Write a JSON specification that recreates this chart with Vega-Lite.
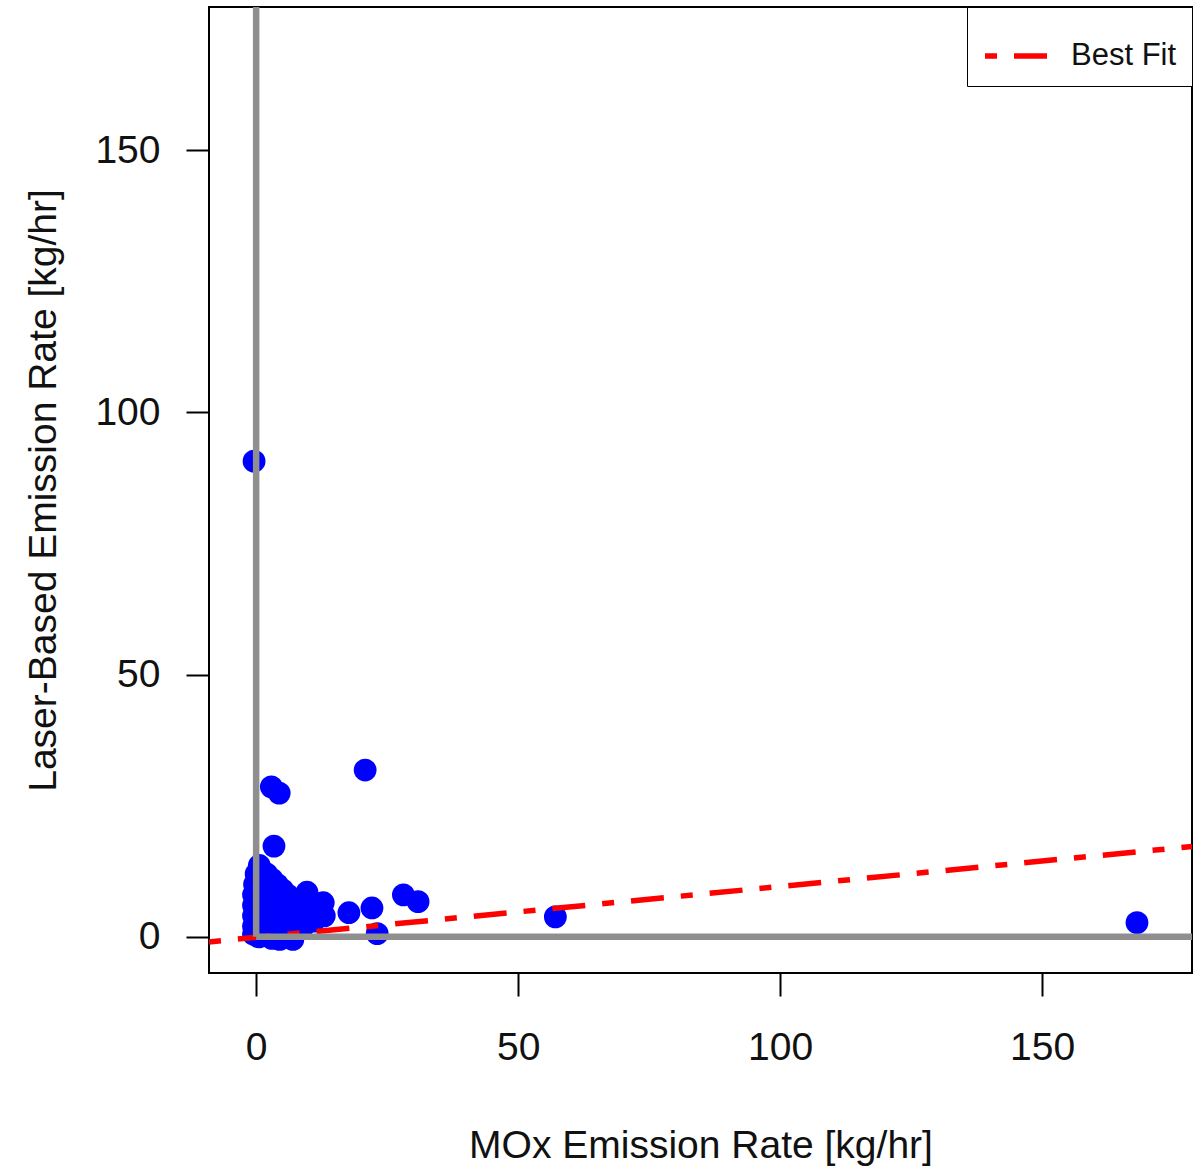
{
  "$schema": "https://vega.github.io/schema/vega-lite/v6.json",
  "width": 983,
  "height": 966,
  "autosize": "none",
  "padding": {"left": 209, "top": 7, "right": 12, "bottom": 193},
  "background": "white",
  "config": {
    "font": "Liberation Sans",
    "view": {"stroke": "black", "strokeWidth": 2},
    "axis": {
      "grid": false,
      "domain": false,
      "tickColor": "black",
      "tickWidth": 2,
      "tickSize": 23,
      "labelFont": "Liberation Sans",
      "labelFontSize": 39,
      "labelColor": "#111111",
      "titleFont": "Liberation Sans",
      "titleFontSize": 39,
      "titleFontWeight": "normal",
      "titleColor": "#111111"
    }
  },
  "datasets": {
    "pts": [
      {"x": -0.5, "y": 0.5}, {"x": -0.5, "y": 2}, {"x": -0.5, "y": 4}, {"x": -0.5, "y": 6}, {"x": -0.5, "y": 8},
      {"x": -0.3, "y": 10}, {"x": 0, "y": 12}, {"x": 0.6, "y": 13.6}, {"x": 1, "y": 11}, {"x": 1, "y": 9},
      {"x": 1, "y": 7}, {"x": 1, "y": 5}, {"x": 1, "y": 3}, {"x": 1, "y": 1}, {"x": 0.5, "y": 0},
      {"x": 2, "y": 12}, {"x": 2, "y": 10}, {"x": 2, "y": 8}, {"x": 2, "y": 6}, {"x": 2, "y": 4},
      {"x": 2, "y": 2}, {"x": 2, "y": 0.3}, {"x": 3, "y": 11}, {"x": 3, "y": 9}, {"x": 3, "y": 7},
      {"x": 3, "y": 5}, {"x": 3, "y": 3}, {"x": 3, "y": 1}, {"x": 3, "y": -0.3}, {"x": 4, "y": 10},
      {"x": 4, "y": 8}, {"x": 4, "y": 6}, {"x": 4, "y": 4}, {"x": 4, "y": 2}, {"x": 4.5, "y": -0.5},
      {"x": 5, "y": 9}, {"x": 5, "y": 7}, {"x": 5, "y": 5}, {"x": 5, "y": 3}, {"x": 5, "y": 1},
      {"x": 6, "y": 8}, {"x": 6, "y": 6}, {"x": 6, "y": 4}, {"x": 6, "y": 2}, {"x": 7, "y": 6.5},
      {"x": 7, "y": 4}, {"x": 7, "y": 1.5}, {"x": 7, "y": -0.5}, {"x": 8, "y": 5}, {"x": 8, "y": 3},
      {"x": 9.7, "y": 8.5}, {"x": 10, "y": 7}, {"x": 11, "y": 5}, {"x": 12.8, "y": 6.5}, {"x": 13, "y": 4},
      {"x": 11, "y": 3}, {"x": 9, "y": 2}, {"x": 3.4, "y": 17.3}, {"x": 2.9, "y": 28.6}, {"x": 4.4, "y": 27.4},
      {"x": 20.8, "y": 31.8}, {"x": -0.4, "y": 90.7}, {"x": 17.7, "y": 4.6}, {"x": 22.1, "y": 5.5}, {"x": 23.1, "y": 0.6},
      {"x": 28.1, "y": 8}, {"x": 30.9, "y": 6.7}, {"x": 57.1, "y": 3.8}, {"x": 168.1, "y": 2.7}
    ],
    "fit": [
      {"x": -9, "y": -0.97, "series": "Best Fit"},
      {"x": 178.6, "y": 17.22, "series": "Best Fit"}
    ],
    "axes0": [
      {"x": 0, "x2": 0, "y": 0, "y2": 177.3},
      {"x": 0, "x2": 178.6, "y": 0, "y2": 0}
    ]
  },
  "layer": [
    {
      "data": {"name": "pts"},
      "mark": {"type": "point", "shape": "circle", "filled": true, "size": 520, "color": "#0000ff", "opacity": 1, "strokeWidth": 0},
      "encoding": {
        "x": {
          "field": "x", "type": "quantitative",
          "scale": {"domain": [-9, 178.6], "nice": false, "zero": false},
          "axis": {"values": [0, 50, 100, 150], "title": "MOx Emission Rate [kg/hr]", "labelPadding": 32, "titlePadding": 59}
        },
        "y": {
          "field": "y", "type": "quantitative",
          "scale": {"domain": [-6.9, 177.3], "nice": false, "zero": false},
          "axis": {"values": [0, 50, 100, 150], "title": "Laser-Based Emission Rate [kg/hr]", "labelPadding": 26, "titlePadding": 31}
        }
      }
    },
    {
      "data": {"name": "fit"},
      "mark": {"type": "line", "strokeWidth": 5.5, "strokeDash": [12, 17, 33, 17], "clip": true},
      "encoding": {
        "x": {"field": "x", "type": "quantitative"},
        "y": {"field": "y", "type": "quantitative"},
        "color": {
          "field": "series", "type": "nominal",
          "scale": {"domain": ["Best Fit"], "range": ["#ff0000"]},
          "legend": {
            "title": null,
            "orient": "top-right",
            "offset": 0,
            "padding": 15,
            "fillColor": "white",
            "strokeColor": "black",
            "symbolType": "stroke",
            "symbolSize": 3844,
            "symbolStrokeWidth": 5.5,
            "symbolDash": [12, 17, 33, 17],
            "labelFont": "Liberation Sans",
            "labelFontSize": 31,
            "labelColor": "#111111",
            "labelOffset": 21
          }
        }
      }
    },
    {
      "data": {"name": "axes0"},
      "mark": {"type": "rule", "color": "#8f8f8f", "strokeWidth": 6.5},
      "encoding": {
        "x": {"field": "x", "type": "quantitative"},
        "x2": {"field": "x2"},
        "y": {"field": "y", "type": "quantitative"},
        "y2": {"field": "y2"}
      }
    }
  ]
}
